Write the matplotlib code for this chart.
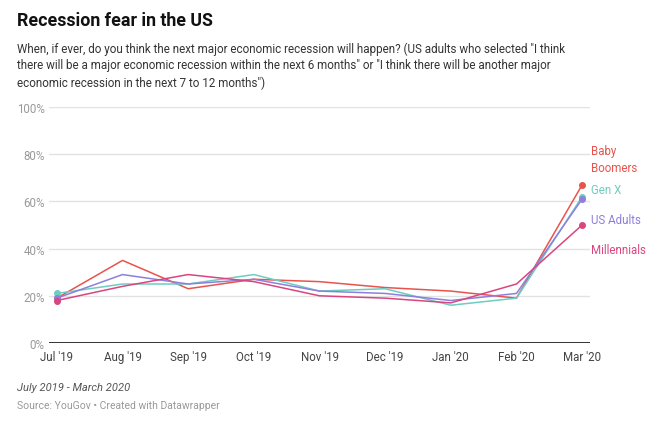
import matplotlib
matplotlib.use("Agg")
import matplotlib.pyplot as plt

months = ["Jul '19", "Aug '19", "Sep '19", "Oct '19", "Nov '19", "Dec '19", "Jan '20", "Feb '20", "Mar '20"]
baby_boomers = [19, 35, 23, 27, 26, 23.5, 22, 19, 67]
gen_x = [21, 25, 25, 29, 22, 23, 16, 19, 62]
us_adults = [19, 29, 25, 27, 22, 21, 18, 21, 61]
millennials = [18, 24, 29, 26, 20, 19, 17, 25, 50]
yticks = [0, 20, 40, 60, 80, 100]

series = [
    ("Baby\nBoomers", baby_boomers, "#e8534d", 160),
    ("Gen X", gen_x, "#6dcdc0", 191),
    ("US Adults", us_adults, "#8e7fde", 221),
    ("Millennials", millennials, "#d9467f", 251),
]

plt.rcParams['font.family'] = ['Roboto', 'DejaVu Sans']

fig = plt.figure(figsize=(6.6, 4.35), dpi=100)
W, H = 660, 435
ax = fig.add_axes([49 / W, 1 - 344 / H, (590 - 49) / W, (344 - 108) / H])

x = list(range(len(months)))
for name, vals, col, ly in series:
    ax.plot(x, vals, color=col, lw=1.1, zorder=3)
    ax.plot([x[0], x[-1]], [vals[0], vals[-1]], 'o', color=col, ms=4, zorder=4)

ax.set_xlim(-0.12, 8.12)
ax.set_ylim(0, 100)
ax.set_yticks(yticks)
ax.set_yticklabels([f"{v}%" for v in yticks])
ax.set_xticks(x)
ax.set_xticklabels(months)
for s in ax.spines.values():
    s.set_visible(False)
ax.grid(axis='y', color='#e2e2e2', lw=1)
ax.set_axisbelow(True)
ax.axhline(0, color='#333333', lw=1.4, zorder=2)
ax.tick_params(axis='both', length=0, labelsize=8.3, colors='#888888')
ax.tick_params(axis='y', pad=3)
ax.tick_params(axis='x', pad=5)
for lab in ax.get_yticklabels():
    lab.set_color('#999999')
for lab in ax.get_xticklabels():
    lab.set_color('#444444')

for name, vals, col, ly in series:
    fig.text(591 / W, 1 - ly / H, name, color=col, fontsize=8.3, va='center', ha='left', linespacing=1.35)

fig.text(17 / W, 1 - 21 / H, "Recession fear in the US", fontsize=12.8, fontweight='bold', color='#111111',
         va='center', ha='left')
fig.text(17 / W, 1 - 66 / H,
         "When, if ever, do you think the next major economic recession will happen? (US adults who selected \"I think\n"
         "there will be a major economic recession within the next 6 months\" or \"I think there will be another major\n"
         "economic recession in the next 7 to 12 months\")",
         fontsize=8.4, color='#333333', va='center', ha='left', linespacing=1.38)
fig.text(17 / W, 1 - 388 / H, "July 2019 - March 2020", fontsize=8, style='italic', color='#555555', va='center', ha='left')
fig.text(17 / W, 1 - 406 / H, "Source: YouGov \u2022 Created with Datawrapper", fontsize=7.5, color='#999999', va='center', ha='left')

fig.savefig("out.png", dpi=100, facecolor='white')
